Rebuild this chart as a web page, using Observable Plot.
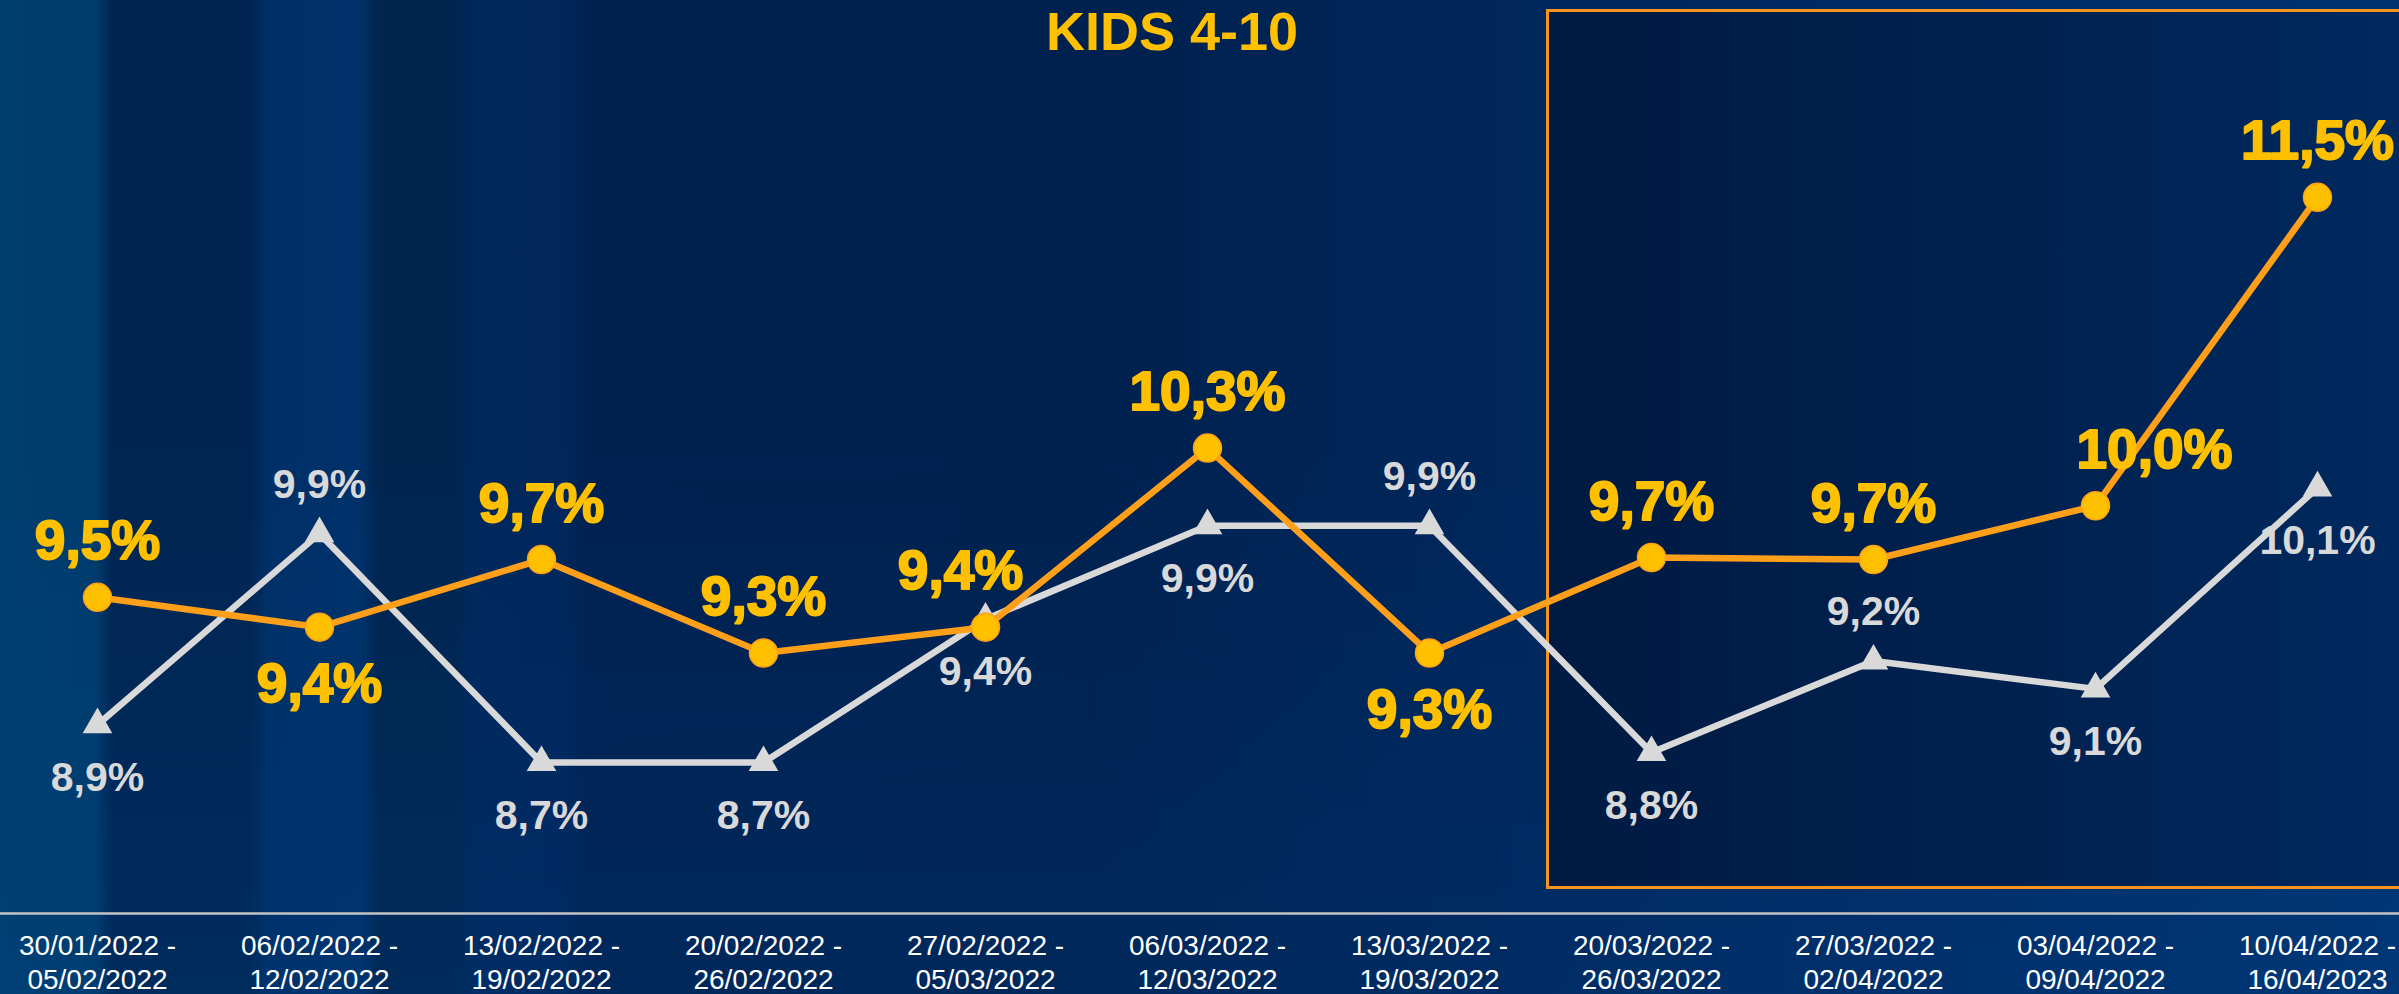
<!DOCTYPE html>
<html>
<head>
<meta charset="utf-8">
<script src="https://cdn.jsdelivr.net/npm/d3@7"></script>
<script src="https://cdn.jsdelivr.net/npm/@observablehq/plot@0.6"></script>
<style>
html, body { margin: 0; padding: 0; background: #00234f; overflow: hidden; }
#wrap {
  position: relative; width: 2399px; height: 994px; overflow: hidden;
  background:
    linear-gradient(180deg, rgba(0,60,130,0) 45%, rgba(0,70,140,0.20) 100%),
    linear-gradient(90deg,
      #003e6e 0px, #003c6c 95px, #002552 112px, #002552 250px,
      #002f66 268px, #00316a 360px, #00254f 378px, #00254f 458px,
      #00275b 470px, #00265a 565px, #002150 585px, #00214f 1100px,
      #002a62 1800px, #003371 2399px);
}
#box {
  position: absolute; left: 1546px; top: 9px; width: 900px; height: 880px;
  box-sizing: border-box; border: 3px solid #f7941d;
  background: linear-gradient(90deg, #001a42 0%, #00214f 50%, #002a60 100%);
}
#title {
  position: absolute; left: 0; top: 4px; width: 2344px; text-align: center;
  font: bold 54px/54px "Liberation Sans", Arial, sans-serif; color: #ffc000;
}
#chart { position: absolute; left: 0; top: 40px; }
</style>
</head>
<body>
<div id="wrap">
  <div id="box"></div>
  <div id="chart"></div>
  <div id="title">KIDS 4-10</div>
</div>
<script>
// ---- data ----
const categories = [
  "30/01/2022 -\n05/02/2022",
  "06/02/2022 -\n12/02/2022",
  "13/02/2022 -\n19/02/2022",
  "20/02/2022 -\n26/02/2022",
  "27/02/2022 -\n05/03/2022",
  "06/03/2022 -\n12/03/2022",
  "13/03/2022 -\n19/03/2022",
  "20/03/2022 -\n26/03/2022",
  "27/03/2022 -\n02/04/2022",
  "03/04/2022 -\n09/04/2022",
  "10/04/2022 -\n16/04/2023"
];
const orangeValues = [9.53, 9.38, 9.72, 9.25, 9.38, 10.28, 9.25, 9.73, 9.72, 9.99, 11.54];
const whiteValues  = [8.89, 9.85, 8.70, 8.70, 9.42, 9.89, 9.89, 8.75, 9.21, 9.07, 10.08];
const orangeLabels = ["9,5%", "9,4%", "9,7%", "9,3%", "9,4%", "10,3%", "9,3%", "9,7%", "9,7%", "10,0%", "11,5%"];
const whiteLabels  = ["8,9%", "9,9%", "8,7%", "8,7%", "9,4%", "9,9%", "9,9%", "8,8%", "9,2%", "9,1%", "10,1%"];
const orangePlacement = ["top", "bottom", "top", "top", "top-left", "top", "bottom", "top", "top", "top-right", "top"];
const whitePlacement  = ["bottom", "top", "bottom", "bottom", "bottom", "bottom", "top", "bottom", "top", "bottom", "bottom"];

// ---- tables ----
const orangeRows = categories.map((c, i) => ({cat: c, value: orangeValues[i], label: orangeLabels[i], pos: orangePlacement[i]}));
const whiteRows  = categories.map((c, i) => ({cat: c, value: whiteValues[i], label: whiteLabels[i], pos: whitePlacement[i]}));

const FONT = "'Liberation Sans', Arial, sans-serif";
const ORANGE_LINE = "#ff9f1a";
const YELLOW = "#ffc000";
const GREY = "#d9d9d9";

function labelMarks(rows, placements, common) {
  return Object.entries(placements).map(([pos, off]) =>
    Plot.text(rows, {
      filter: d => d.pos === pos,
      x: "cat", y: "value", text: "label",
      lineAnchor: "bottom", dx: off.dx || 0, dy: off.dy,
      ...common
    })
  );
}

const chart = Plot.plot({
  width: 2399,
  height: 954,
  marginTop: 0, marginRight: 0, marginBottom: 81, marginLeft: 0,
  style: {background: "transparent", fontFamily: FONT, overflow: "visible"},
  x: {type: "point", domain: categories, range: [94, 2320], padding: 0, axis: null},
  y: {domain: [8.7, 11.5], range: [722, 164.8], axis: null},
  marks: [
    Plot.frame({anchor: "bottom", stroke: "#c4c4c4", strokeWidth: 2.5}),
    Plot.text(categories, {
      x: d => d, frameAnchor: "bottom", lineAnchor: "bottom", dy: 75,
      lineHeight: 1.2, fontSize: 28, fill: "#ffffff", fontFamily: FONT
    }),
    Plot.line(whiteRows, {x: "cat", y: "value", stroke: GREY, strokeWidth: 6.5}),
    Plot.line(orangeRows, {x: "cat", y: "value", stroke: ORANGE_LINE, strokeWidth: 6.5}),
    Plot.dot(whiteRows, {x: "cat", y: "value", symbol: "triangle", r: 11, fill: GREY, stroke: "none"}),
    Plot.dot(orangeRows, {x: "cat", y: "value", r: 14, fill: YELLOW, stroke: ORANGE_LINE, strokeWidth: 1.5}),
    ...labelMarks(whiteRows, {
      "top": {dy: -36},
      "bottom": {dy: 66}
    }, {fontSize: 41, fontWeight: "bold", fill: GREY, fontFamily: FONT}),
    ...labelMarks(orangeRows, {
      "top": {dy: -38},
      "top-left": {dy: -38, dx: -25},
      "top-right": {dy: -38, dx: 59},
      "bottom": {dy: 75}
    }, {fontSize: 55, fontWeight: "bold", fill: YELLOW, stroke: YELLOW, strokeWidth: 2, fontFamily: FONT})
  ]
});
document.getElementById("chart").appendChild(chart);
</script>
</body>
</html>
